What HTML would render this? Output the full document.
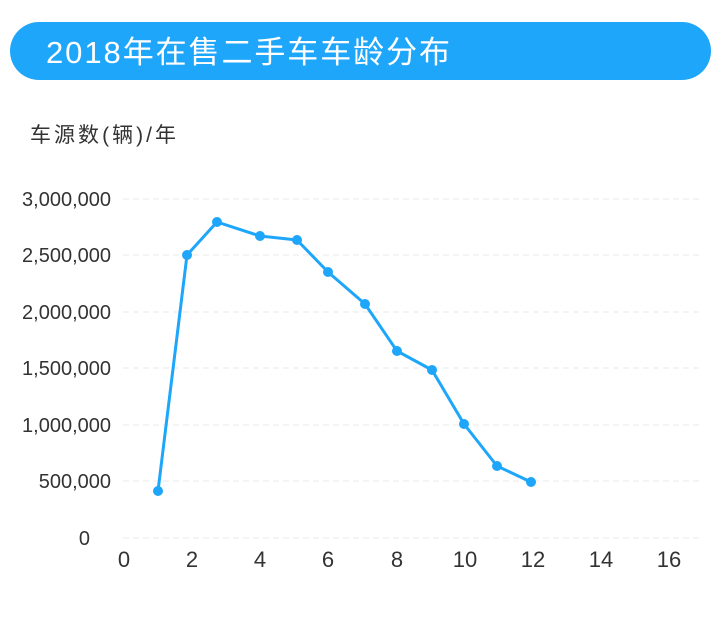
<!DOCTYPE html><html><head><meta charset="utf-8"><style>
body{margin:0;background:#fff;width:721px;height:614px;overflow:hidden;font-family:"Liberation Sans","Noto Sans CJK SC",sans-serif}
</style></head><body>
<svg width="721" height="614" xmlns="http://www.w3.org/2000/svg" font-family="Liberation Sans, Noto Sans CJK SC, sans-serif">
<rect x="10" y="22" width="701" height="58" rx="29" fill="#1ea6fb"/>
<text x="46" y="63" font-size="31" fill="#fff" textLength="404">2018年在售二手车车龄分布</text>
<text x="30" y="142" font-size="21" fill="#333" textLength="146">车源数(辆)/年</text>
<g stroke="#e8e8e8" stroke-dasharray="6,4" stroke-width="1">
<line x1="123" x2="700" y1="199" y2="199"/><line x1="123" x2="700" y1="255" y2="255"/><line x1="123" x2="700" y1="312" y2="312"/><line x1="123" x2="700" y1="368" y2="368"/><line x1="123" x2="700" y1="425" y2="425"/><line x1="123" x2="700" y1="481" y2="481"/><line x1="123" x2="700" y1="538" y2="538"/>
</g>
<g font-size="20" fill="#333" text-anchor="end">
<text x="111" y="206">3,000,000</text><text x="111" y="262">2,500,000</text><text x="111" y="319">2,000,000</text><text x="111" y="375">1,500,000</text><text x="111" y="432">1,000,000</text><text x="111" y="488">500,000</text><text x="90" y="545">0</text>
</g>
<g font-size="22" fill="#333" text-anchor="middle">
<text x="124" y="567">0</text><text x="192" y="567">2</text><text x="260" y="567">4</text><text x="328" y="567">6</text><text x="397" y="567">8</text><text x="465" y="567">10</text><text x="533" y="567">12</text><text x="601" y="567">14</text><text x="669" y="567">16</text>
</g>
<polyline fill="none" stroke="#1ea6fb" stroke-width="3" stroke-linejoin="round" points="158,491 187,255 217,222 260,236 297,240 328,272 365,304 397,351 432,370 464,424 497,466 531,482"/>
<g fill="#1ea6fb">
<circle cx="158" cy="491" r="5"/><circle cx="187" cy="255" r="5"/><circle cx="217" cy="222" r="5"/><circle cx="260" cy="236" r="5"/><circle cx="297" cy="240" r="5"/><circle cx="328" cy="272" r="5"/><circle cx="365" cy="304" r="5"/><circle cx="397" cy="351" r="5"/><circle cx="432" cy="370" r="5"/><circle cx="464" cy="424" r="5"/><circle cx="497" cy="466" r="5"/><circle cx="531" cy="482" r="5"/>
</g>
</svg>
</body></html>
